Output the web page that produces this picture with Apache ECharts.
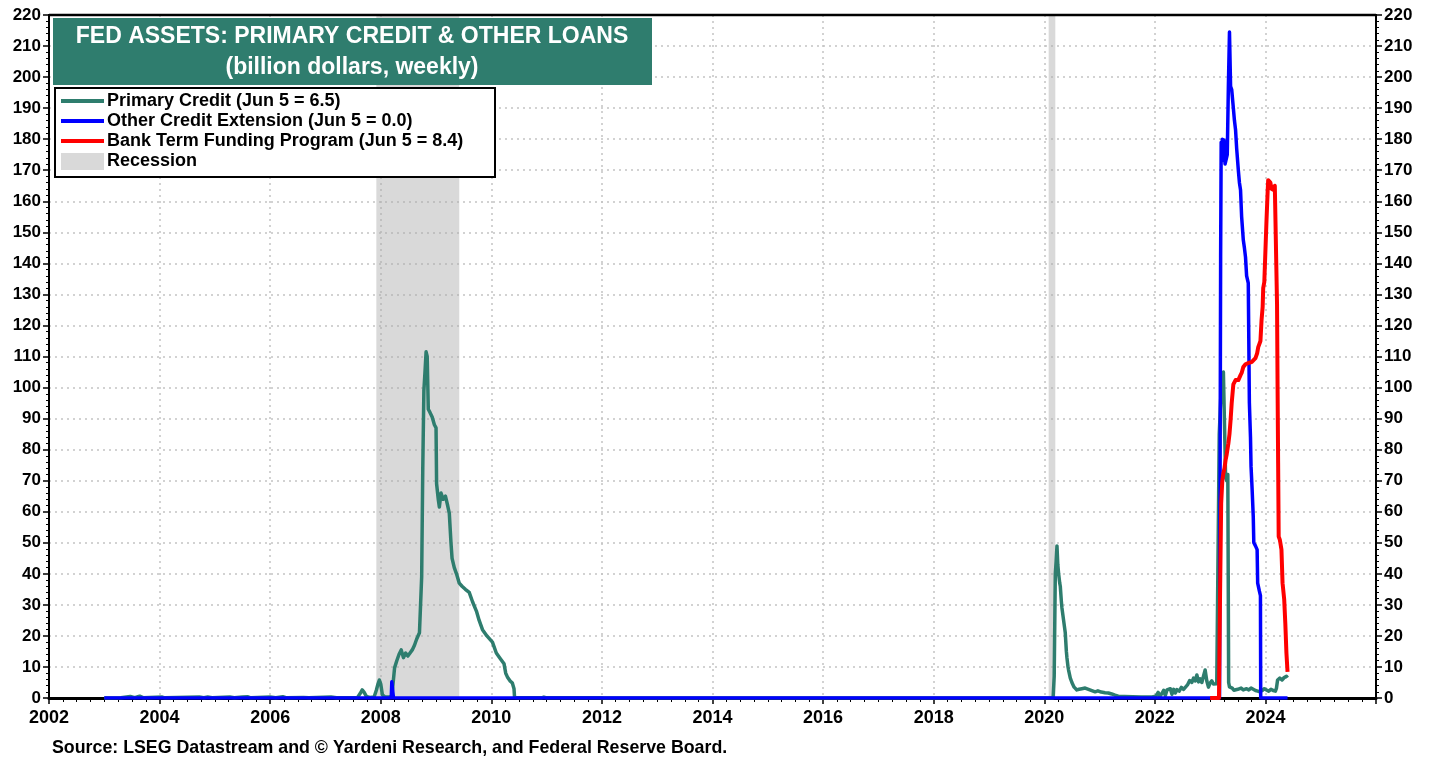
<!DOCTYPE html>
<html>
<head>
<meta charset="utf-8">
<script src="https://cdn.jsdelivr.net/npm/echarts@6/dist/echarts.min.js"></script>
<style>
  html, body { margin: 0; padding: 0; background: #fff; }
  #chart { width: 1438px; height: 763px; }
</style>
</head>
<body>
<div id="chart"></div>
<script>
// ---------- DATA ----------
const titleLines = ['FED ASSETS: PRIMARY CREDIT & OTHER LOANS', '(billion dollars, weekly)'];
const legendLabels = [
  'Primary Credit (Jun 5 = 6.5)',
  'Other Credit Extension (Jun 5 = 0.0)',
  'Bank Term Funding Program (Jun 5 = 8.4)',
  'Recession'
];
const sourceText = 'Source: LSEG Datastream and \u00A9 Yardeni Research, and Federal Reserve Board.';

// recession periods [start, end] (decimal years)
const recessions = [[2007.92, 2009.42], [2020.08, 2020.2]];

// Primary credit [decimal year, billion $]
const primaryCredit = [
  [2003.0,0],[2003.3,0.1],[2003.47,0.5],[2003.55,0.1],[2003.64,0.6],[2003.7,0.1],[2004.05,0.3],[2004.1,0.05],
  [2004.72,0.3],[2004.8,0.1],[2004.87,0.3],[2004.95,0.05],[2005.27,0.3],[2005.35,0.05],[2005.5,0.3],[2005.59,0.4],
  [2005.65,0.05],[2006.0,0.3],[2006.1,0.05],[2006.23,0.4],[2006.3,0.05],[2006.6,0.2],[2006.7,0.05],[2007.1,0.3],
  [2007.2,0.05],[2007.58,0.2],[2007.63,1.5],[2007.665,2.6],[2007.7,1.8],[2007.74,0.5],[2007.8,0.2],[2007.88,0.3],
  [2007.92,2.5],[2007.95,4.5],[2007.975,5.8],[2008.0,4.5],[2008.03,1.0],[2008.08,0.3],[2008.15,0.3],[2008.2,0.5],
  [2008.23,6],[2008.25,9.7],[2008.29,12],[2008.33,14],[2008.37,15.5],[2008.41,13],[2008.45,14.5],[2008.49,13.5],
  [2008.53,14.5],[2008.57,15.5],[2008.61,17],[2008.65,19],[2008.7,21],[2008.72,30],[2008.74,39],[2008.76,74],
  [2008.78,99],[2008.8,105],[2008.82,111.5],[2008.84,110],[2008.86,93],[2008.89,92],[2008.93,90.5],[2008.97,88],
  [2009.0,87],[2009.01,69],[2009.04,64],[2009.06,61.5],[2009.09,66],[2009.13,64],[2009.17,65],[2009.21,62],
  [2009.24,59.5],[2009.27,50],[2009.29,45],[2009.33,42],[2009.37,40],[2009.42,37],[2009.47,36],[2009.53,35],
  [2009.6,34],[2009.66,31],[2009.73,28],[2009.78,25],[2009.84,22],[2009.92,20],[2010.02,18],[2010.09,14.5],
  [2010.15,13],[2010.23,11],[2010.26,8],[2010.29,6.8],[2010.34,5.5],[2010.38,4.8],[2010.41,3],[2010.42,0.2],
  [2010.5,0.05],[2010.9,0.05],[2010.95,0.3],[2011.0,0.05],[2011.97,0.05],[2012.0,0.2],[2012.05,0],[2020.16,0],
  [2020.18,7],[2020.2,40],[2020.215,44],[2020.23,49],[2020.245,43],[2020.26,40],[2020.28,37],[2020.29,36],
  [2020.31,31],[2020.32,29],[2020.35,25],[2020.38,21],[2020.4,15],[2020.41,13],[2020.43,10],[2020.44,9],
  [2020.47,6.5],[2020.5,5],[2020.54,3.5],[2020.59,2.6],[2020.63,2.8],[2020.68,3.0],[2020.74,3.2],[2020.8,2.8],
  [2020.86,2.4],[2020.92,2.0],[2020.97,2.3],[2021.03,1.9],[2021.1,1.7],[2021.16,1.6],[2021.22,1.3],[2021.28,0.9],
  [2021.34,0.6],[2021.45,0.5],[2021.6,0.4],[2021.75,0.3],[2021.95,0.3],[2022.02,0.6],[2022.06,1.8],[2022.09,0.5],
  [2022.13,1.5],[2022.16,2.5],[2022.19,0.8],[2022.22,2.6],[2022.25,2.0],[2022.28,3.0],[2022.31,1.2],[2022.34,2.8],
  [2022.37,1.6],[2022.4,2.7],[2022.44,2.2],[2022.48,3.4],[2022.52,2.8],[2022.55,3.2],[2022.59,4.2],[2022.63,5.6],
  [2022.67,5.0],[2022.7,6.4],[2022.73,5.5],[2022.76,7.4],[2022.79,5.2],[2022.82,6.2],[2022.85,5.0],[2022.88,7.0],
  [2022.91,9.0],[2022.94,5.5],[2022.97,3.5],[2023.0,4.8],[2023.03,5.5],[2023.06,4.5],[2023.09,4.8],[2023.12,4.6],
  [2023.15,4.2],[2023.165,85],[2023.2,100],[2023.24,105],[2023.26,88],[2023.28,71],[2023.3,70],[2023.32,72],
  [2023.335,5],[2023.35,3.6],[2023.38,4.2],[2023.4,3.2],[2023.43,2.5],[2023.46,2.2],[2023.5,2.8],[2023.53,2.5],
  [2023.56,3.2],[2023.6,2.6],[2023.63,2.0],[2023.66,3.0],[2023.7,2.6],[2023.74,3.2],[2023.78,2.8],[2023.82,2.4],
  [2023.86,2.2],[2023.9,2.0],[2023.94,2.4],[2023.98,3.0],[2024.02,2.6],[2024.06,2.2],[2024.1,2.8],[2024.14,2.4],
  [2024.18,2.2],[2024.2,3.2],[2024.22,5.8],[2024.26,6.4],[2024.3,5.8],[2024.34,6.6],[2024.38,7.0],[2024.4,6.5]
];

// Other credit extension [decimal year, billion $]
const otherCredit = [
  [2003.0,0],[2008.19,0],[2008.2,5.2],[2008.22,5.2],[2008.23,0],[2023.17,0],[2023.19,142],[2023.2,179],
  [2023.21,173],[2023.22,180],[2023.235,176],[2023.25,179.7],[2023.27,172],[2023.29,171.6],[2023.31,175],
  [2023.33,197],[2023.35,214.5],[2023.37,197],[2023.39,196],[2023.42,190],[2023.44,186],[2023.46,183],
  [2023.48,177],[2023.51,170],[2023.53,166],[2023.55,163.6],[2023.57,155],[2023.6,147.5],[2023.62,145],
  [2023.64,142],[2023.66,136],[2023.69,133.6],[2023.71,95],[2023.73,84],[2023.74,74.6],[2023.76,67],
  [2023.78,58.5],[2023.79,50],[2023.82,49],[2023.85,47.8],[2023.86,37],[2023.89,34.5],[2023.91,33],[2023.915,0],
  [2024.4,0]
];

// Bank Term Funding Program [decimal year, billion $]
const btfp = [
  [2023.0,0],[2023.16,0],[2023.18,34],[2023.2,62.8],[2023.22,70],[2023.24,72.5],[2023.26,74],[2023.28,76.7],
  [2023.3,78.5],[2023.31,78.9],[2023.33,82],[2023.35,85],[2023.37,89.5],[2023.39,95],[2023.41,99],[2023.42,101],
  [2023.44,101.5],[2023.46,102.4],[2023.48,102],[2023.51,102.4],[2023.53,103],[2023.55,104],[2023.57,104.7],
  [2023.6,106.6],[2023.62,107],[2023.64,107.5],[2023.66,107.9],[2023.7,108],[2023.75,108.2],[2023.78,108.8],
  [2023.82,109.5],[2023.85,111],[2023.87,113],[2023.89,114],[2023.91,115],[2023.93,121.7],[2023.95,126],
  [2023.96,132],[2023.98,134],[2024.0,134.6],[2024.02,154],[2024.04,163],[2024.05,166.8],[2024.07,167],
  [2024.09,166],[2024.11,164],[2024.13,164],[2024.15,163.6],[2024.17,165],[2024.2,164.6],[2024.21,127],
  [2024.22,100],[2024.23,75.7],[2024.24,52],[2024.26,51],[2024.27,50],[2024.29,47.8],[2024.31,37],[2024.34,31.7],
  [2024.36,24],[2024.38,14.5],[2024.4,8.4]
];

// ---------- CHART ----------
const GREEN = '#2e7d6e', BLUE = '#0000ff', RED = '#ff0000', SHADE = '#d9d9d9';
const FONT = "'Liberation Sans', Arial, sans-serif";
const chart = echarts.init(document.getElementById('chart'), null, { renderer: 'canvas' });

const GRID = { left: 49, right: 62, top: 15, bottom: 65 };

const yAxisBase = {
  type: 'value', min: 0, max: 220, interval: 10,
  axisLine: { show: true, lineStyle: { color: '#000', width: 2 } },
  axisTick: { show: true, length: 6, lineStyle: { color: '#000', width: 1.5 } },
  minorTick: { show: true, splitNumber: 5, length: 3, lineStyle: { color: '#000', width: 1 } },
  axisLabel: { color: '#000', fontSize: 17, fontWeight: 'bold', fontFamily: FONT, margin: 8 },
  splitLine: { show: false }
};

const legendY = [101, 121, 141, 161];
const legendColors = [GREEN, BLUE, RED];

const graphics = [
  // top border of plot frame
  { type: 'line', shape: { x1: GRID.left, y1: GRID.top, x2: 1438 - GRID.right, y2: GRID.top }, style: { stroke: '#000', lineWidth: 2.5 }, z: 99 },
  { type: 'rect', shape: { x: 53, y: 18, width: 599, height: 67 }, style: { fill: '#2f7d6e' }, z: 100 },
  { type: 'text', x: 352, y: 37, style: { text: titleLines[0], fill: '#fff', font: "bold 23px " + FONT, textAlign: 'center', textVerticalAlign: 'middle' }, z: 101 },
  { type: 'text', x: 352, y: 68, style: { text: titleLines[1], fill: '#fff', font: "bold 23px " + FONT, textAlign: 'center', textVerticalAlign: 'middle' }, z: 101 },
  { type: 'rect', shape: { x: 55, y: 88, width: 440, height: 89 }, style: { fill: '#fff', stroke: '#000', lineWidth: 2 }, z: 100 },
  { type: 'text', x: 52, y: 748, style: { text: sourceText, fill: '#000', font: "bold 17.8px " + FONT, textVerticalAlign: 'middle' }, z: 101 }
];
legendLabels.forEach((lab, i) => {
  if (i < 3) {
    graphics.push({ type: 'line', shape: { x1: 61, y1: legendY[i], x2: 104, y2: legendY[i] }, style: { stroke: legendColors[i], lineWidth: 4 }, z: 101 });
  } else {
    graphics.push({ type: 'rect', shape: { x: 61, y: legendY[i] - 8, width: 43, height: 17 }, style: { fill: SHADE }, z: 101 });
  }
  graphics.push({ type: 'text', x: 107, y: legendY[i], style: { text: lab, fill: '#000', font: "bold 18px " + FONT, textVerticalAlign: 'middle' }, z: 101 });
});

const lineSeries = (name, data, color, width, z) => ({
  name, type: 'line', data, showSymbol: false, symbol: 'none', z,
  lineStyle: { color, width, join: 'round' }, itemStyle: { color },
  xAxisIndex: 0, yAxisIndex: 0, animation: false
});

const dotted = { color: '#c4c4c4', type: [2, 4], width: 1.5 };

chart.setOption({
  animation: false,
  backgroundColor: '#fff',
  grid: Object.assign({ show: true, borderColor: '#000', borderWidth: 2, backgroundColor: 'transparent' }, GRID),
  xAxis: {
    type: 'value', min: 2002, max: 2026, interval: 2,
    axisLine: { show: true, onZero: false, lineStyle: { color: '#000', width: 3 } },
    axisTick: { show: true, length: 6, lineStyle: { color: '#000', width: 1.5 } },
    minorTick: { show: true, splitNumber: 8, length: 4, lineStyle: { color: '#000', width: 1 } },
    axisLabel: { color: '#000', fontSize: 18, fontWeight: 'bold', fontFamily: FONT, margin: 11, showMaxLabel: false,
                 formatter: v => String(v) },
    splitLine: { show: true, showMinLine: false, showMaxLine: false, lineStyle: dotted }
  },
  yAxis: [
    Object.assign({}, yAxisBase, { position: 'left',
      splitLine: { show: true, showMinLine: false, showMaxLine: false, lineStyle: dotted } }),
    Object.assign({}, yAxisBase, { position: 'right' })
  ],
  graphic: graphics,
  series: [
    {
      name: 'Recession', type: 'line', data: [], z: 1, silent: true,
      markArea: {
        silent: true,
        itemStyle: { color: 'rgba(170,170,170,0.45)' },
        data: recessions.map(r => [{ xAxis: r[0] }, { xAxis: r[1] }])
      }
    },
    lineSeries(legendLabels[0], primaryCredit, GREEN, 3.5, 3),
    lineSeries(legendLabels[1], otherCredit, BLUE, 3.5, 4),
    lineSeries(legendLabels[2], btfp, RED, 4, 5)
  ]
});
</script>
</body>
</html>
